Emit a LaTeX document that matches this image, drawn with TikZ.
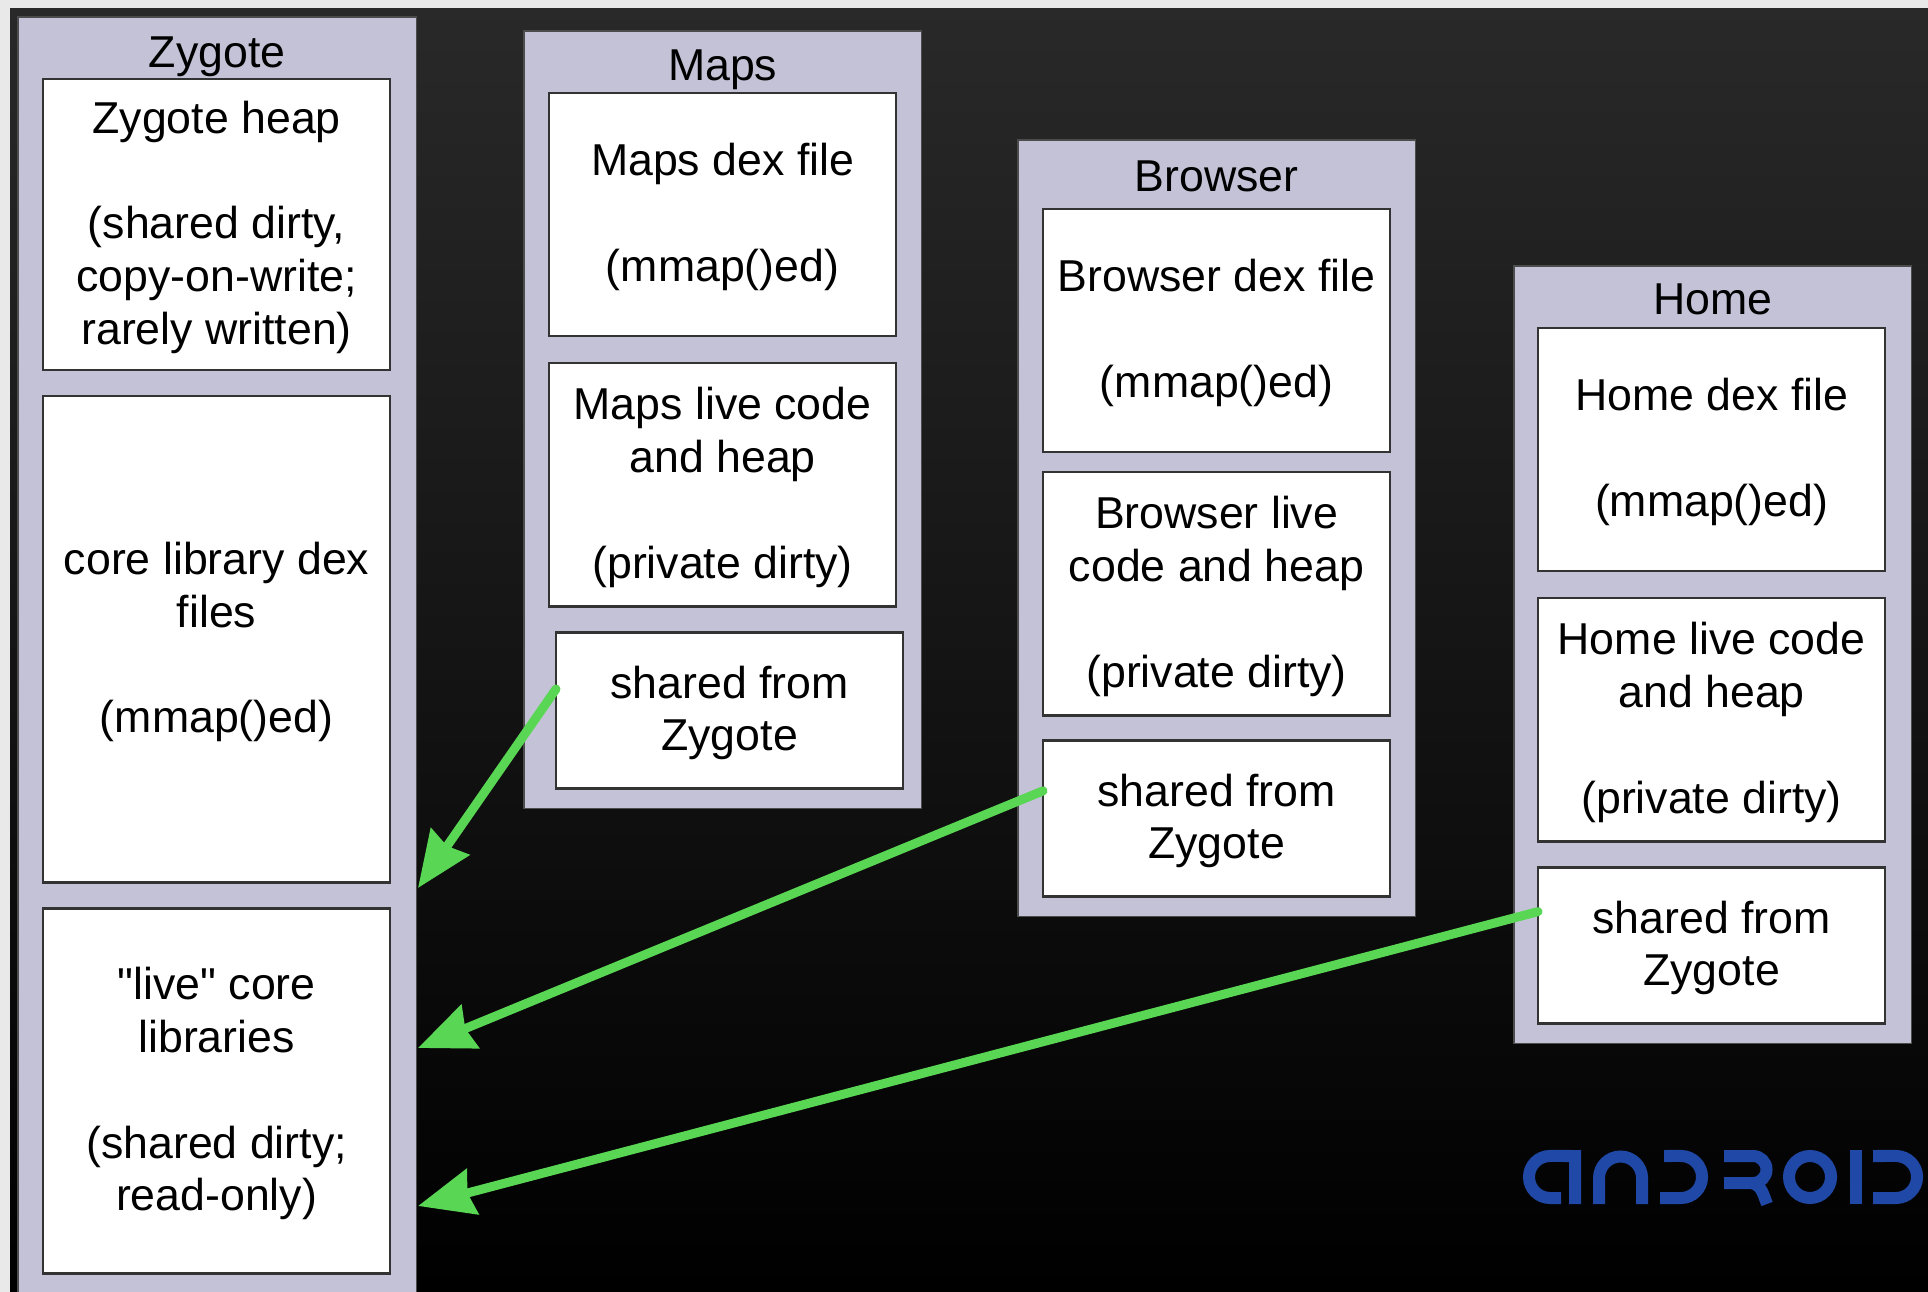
\documentclass[tikz,border=0pt]{standalone}
\usepackage{fontspec}
\setmainfont{Liberation Sans}[Ligatures=TeXOff]
\usepackage{tikz}
\usetikzlibrary{positioning,arrows.meta}

\definecolor{panelgray}{HTML}{C3C2D6}
\definecolor{sharegreen}{HTML}{59D653}
\definecolor{logoblue}{HTML}{2048A6}
\definecolor{pagegray}{HTML}{E9E9E9}
\newcommand{\toprow}{\rule{0pt}{10.7pt}}

\begin{document}
\begin{tikzpicture}[x=0.01cm,y=-0.01cm,>=Stealth,
                    font=\fontsize{12.7}{15}\selectfont]
  \tikzset{
    panel/.style={fill=panelgray,draw=black!70,line width=0.4pt,anchor=north west,
                  minimum width=3.97cm,outer sep=0pt,inner sep=0pt},
    title/.style={text=black,text height=8pt,text depth=2.5pt,inner sep=0pt},
    region/.style={fill=white,draw=black!80,line width=0.7pt,minimum width=3.47cm,
                   outer sep=0pt,inner sep=0pt,align=center,text=black},
    dexbox/.style={region,minimum height=2.43cm},
    sharedbox/.style={region,minimum height=1.56cm},
    share/.style={->,sharegreen,line width=0.09cm,line cap=round,
                  -{Stealth[length=0.56cm,width=0.46cm,inset=0.05cm]}},
    logo/.style={draw=logoblue,line width=0.12cm}
  }
  \useasboundingbox (0,0) rectangle (1928,1292);
  \fill[pagegray] (0,0) rectangle (1928,1292);
  \fill[top color=black!84,bottom color=black] (10,9) rectangle (1928,1292);

  % process columns
  \node[panel,minimum width=3.98cm,minimum height=12.75cm] (zygotepanel)  at (18,17)    {};
  \node[panel,minimum height=7.77cm]                       (mapspanel)    at (524,31)   {};
  \node[panel,minimum height=7.76cm]                       (browserpanel) at (1018,140) {};
  \node[panel,minimum height=7.77cm]                       (homepanel)    at (1514,266) {};

  \node[title] (zygotetitle)  at ([yshift=-0.41cm]zygotepanel.north)  {Zygote};
  \node[title] (mapstitle)    at ([yshift=-0.40cm]mapspanel.north)    {Maps};
  \node[title] (browsertitle) at ([yshift=-0.42cm]browserpanel.north) {Browser};
  \node[title] (hometitle)    at ([yshift=-0.39cm]homepanel.north)    {Home};

  % zygote
  \node[region,anchor=north west,minimum height=2.91cm] (zygoteheap) at (43,79)
    {\toprow Zygote heap\\[\baselineskip](shared dirty,\\copy-on-write;\\rarely written)};
  \node[region,minimum height=4.86cm] (corefiles) [below=0.26cm of zygoteheap]
    {\toprow core library dex\\files\\[\baselineskip](mmap()ed)};
  \node[region,minimum height=3.65cm] (corelive) [below=0.26cm of corefiles]
    {\toprow "live" core\\libraries\\[\baselineskip](shared dirty;\\read-only)};

  % maps
  \node[dexbox,anchor=north west] (mapsdex) at (549,93) {\toprow Maps dex file\\[\baselineskip](mmap()ed)};
  \node[dexbox]    (mapslive)   [below=0.27cm of mapsdex] {\toprow Maps live code\\and heap\\[\baselineskip](private dirty)};
  \node[sharedbox] (mapsshared) [below=0.26cm of mapslive,xshift=0.07cm] {\toprow shared from\\Zygote};

  % browser
  \node[dexbox,anchor=north west] (browserdex) at (1043,209) {\toprow Browser dex file\\[\baselineskip](mmap()ed)};
  \node[dexbox]    (browserlive)   [below=0.2cm of browserdex]  {\toprow Browser live\\code and heap\\[\baselineskip](private dirty)};
  \node[sharedbox] (browsershared) [below=0.25cm of browserlive] {\toprow shared from\\Zygote};

  % home
  \node[dexbox,anchor=north west] (homedex) at (1538,328) {\toprow Home dex file\\[\baselineskip](mmap()ed)};
  \node[dexbox]    (homelive)   [below=0.27cm of homedex]  {\toprow Home live code\\and heap\\[\baselineskip](private dirty)};
  \node[sharedbox] (homeshared) [below=0.26cm of homelive] {\toprow shared from\\Zygote};

  % arrows
  \coordinate (mapsin)    at (418,888);
  \coordinate (browserin) at (418,1048);
  \coordinate (homein)    at (418,1206);
  \draw[share] (mapsshared.173)    -- (mapsin);
  \draw[share] (browsershared.171) -- (browserin);
  \draw[share] (homeshared.169)    -- (homein);

  % logo
  \draw[logo] (1561,1198) -- (1550,1198) arc[start angle=270,end angle=90,radius=0.21cm]
              -- (1575,1156) -- (1575,1204);
  \draw[logo] (1599,1204) -- (1599,1178) arc[start angle=180,end angle=0,radius=0.215cm] -- (1642,1204);
  \draw[logo] (1660,1198) -- (1681,1198) arc[start angle=270,end angle=450,radius=0.21cm] -- (1664,1156);
  \draw[logo] (1724,1156) -- (1753,1156) arc[start angle=90,end angle=-90,radius=0.135cm] -- (1724,1183);
  \draw[logo] (1752,1183) .. controls (1762,1186) and (1763,1194) .. (1767,1204);
  \draw[logo] (1810,1177) circle[radius=0.21cm];
  \draw[logo] (1856,1150) -- (1856,1204);
  \draw[logo] (1873,1198) -- (1896,1198) arc[start angle=270,end angle=450,radius=0.21cm] -- (1873,1156);
\end{tikzpicture}
\end{document}
